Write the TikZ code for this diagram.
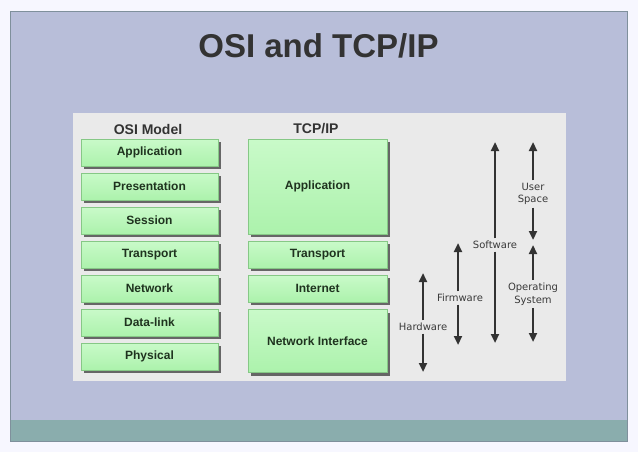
\documentclass[tikz,border=0pt]{standalone}
\usepackage{fontspec}
\setmainfont{Liberation Sans}
\newfontfamily\lblfont{DejaVu Sans}
\usetikzlibrary{arrows.meta,shadows}
\definecolor{slidebg}{HTML}{B8BED9}
\definecolor{teal}{HTML}{8AADAD}
\definecolor{framec}{HTML}{7F909C}
\definecolor{panel}{HTML}{EAEAEA}
\definecolor{boxfill}{HTML}{ACF2AC}
\definecolor{boxlight}{HTML}{C9FAC9}
\definecolor{boxedge}{HTML}{86C886}
\definecolor{boxtext}{HTML}{1F331F}
\definecolor{titlec}{HTML}{333333}
\definecolor{arrowc}{HTML}{333333}
\definecolor{lblc}{HTML}{3A3A3A}
\tikzset{
  layer/.style={draw=boxedge, line width=0.6pt, top color=boxlight, bottom color=boxfill,
    minimum height=27pt, inner sep=0pt, text=boxtext,
    font=\fontsize{12}{14}\selectfont\bfseries,
    drop shadow={shadow xshift=3pt, shadow yshift=-3pt, fill=black!60, opacity=1}},
  osibox/.style={layer, minimum width=137pt},
  tcpbox/.style={layer, minimum width=139pt},
  header/.style={text=titlec, font=\fontsize{14}{16}\selectfont\bfseries, inner sep=0pt},
  scopelbl/.style={text=lblc, font=\lblfont\fontsize{10}{12.5}\selectfont, align=center, inner sep=2.5pt},
  rangearrow/.style={draw=arrowc, line width=2.4pt, -{Triangle[width=8pt,length=9pt]}},
}
\begin{document}
\begin{tikzpicture}[x=1pt,y=-1pt]
\useasboundingbox (0,0) rectangle (638,452);
\fill[white!97!blue] (0,0) rectangle (638,452);
% slide frame
\fill[slidebg] (10,11) rectangle (627,420);
\fill[teal] (10,420) rectangle (627,441);
\draw[framec, line width=0.8pt] (10,11) rectangle (627,441);
\node[text=titlec, font=\fontsize{33}{38}\selectfont\bfseries, inner sep=0pt] (title) at (318.5,46) {OSI and TCP/IP};
% panel
\fill[panel] (73,113) rectangle (566,381);
% headers
\node[header] (osih) at (148,129) {OSI Model};
\node[header] (tcph) at (316,129) {TCP/IP};
% OSI layers
\node[osibox] (o7) at (149.5,152.5) {Application};
\node[osibox] (o6) at (149.5,186.5) {Presentation};
\node[osibox] (o5) at (149.5,220.5) {Session};
\node[osibox] (o4) at (149.5,254.5) {Transport};
\node[osibox] (o3) at (149.5,288.5) {Network};
\node[osibox] (o2) at (149.5,322.5) {Data-link};
\node[osibox] (o1) at (149.5,356.5) {Physical};
% TCP/IP layers
\node[tcpbox, minimum height=95pt] (t4) at (317.5,186.5) {Application};
\node[tcpbox] (t3) at (317.5,254.5) {Transport};
\node[tcpbox] (t2) at (317.5,288.5) {Internet};
\node[tcpbox, minimum height=63pt] (t1) at (317.5,341) {Network Interface};
% scope arrows
\node[scopelbl] (hw) at (423,327) {Hardware};
\coordinate (hwt) at (423,273);
\coordinate (hwb) at (423,372);
\draw[rangearrow] (hw.north) -- (hwt);
\draw[rangearrow] (hw.south) -- (hwb);

\node[scopelbl] (fw) at (460,298) {Firmware};
\coordinate (fwt) at (458,243);
\coordinate (fwb) at (458,345);
\draw[rangearrow] (fw.north -| fwt) -- (fwt);
\draw[rangearrow] (fw.south -| fwb) -- (fwb);

\node[scopelbl] (sw) at (495,245) {Software};
\coordinate (swt) at (495,142);
\coordinate (swb) at (495,343);
\draw[rangearrow] (sw.north) -- (swt);
\draw[rangearrow] (sw.south) -- (swb);

\node[scopelbl] (us) at (533,194) {User\\Space};
\coordinate (ust) at (533,142);
\coordinate (usb) at (533,240);
\draw[rangearrow] (us.north) -- (ust);
\draw[rangearrow] (us.south) -- (usb);

\node[scopelbl] (os) at (533,294) {Operating\\System};
\coordinate (ost) at (533,245);
\coordinate (osb) at (533,342);
\draw[rangearrow] (os.north) -- (ost);
\draw[rangearrow] (os.south) -- (osb);
\end{tikzpicture}
\end{document}
